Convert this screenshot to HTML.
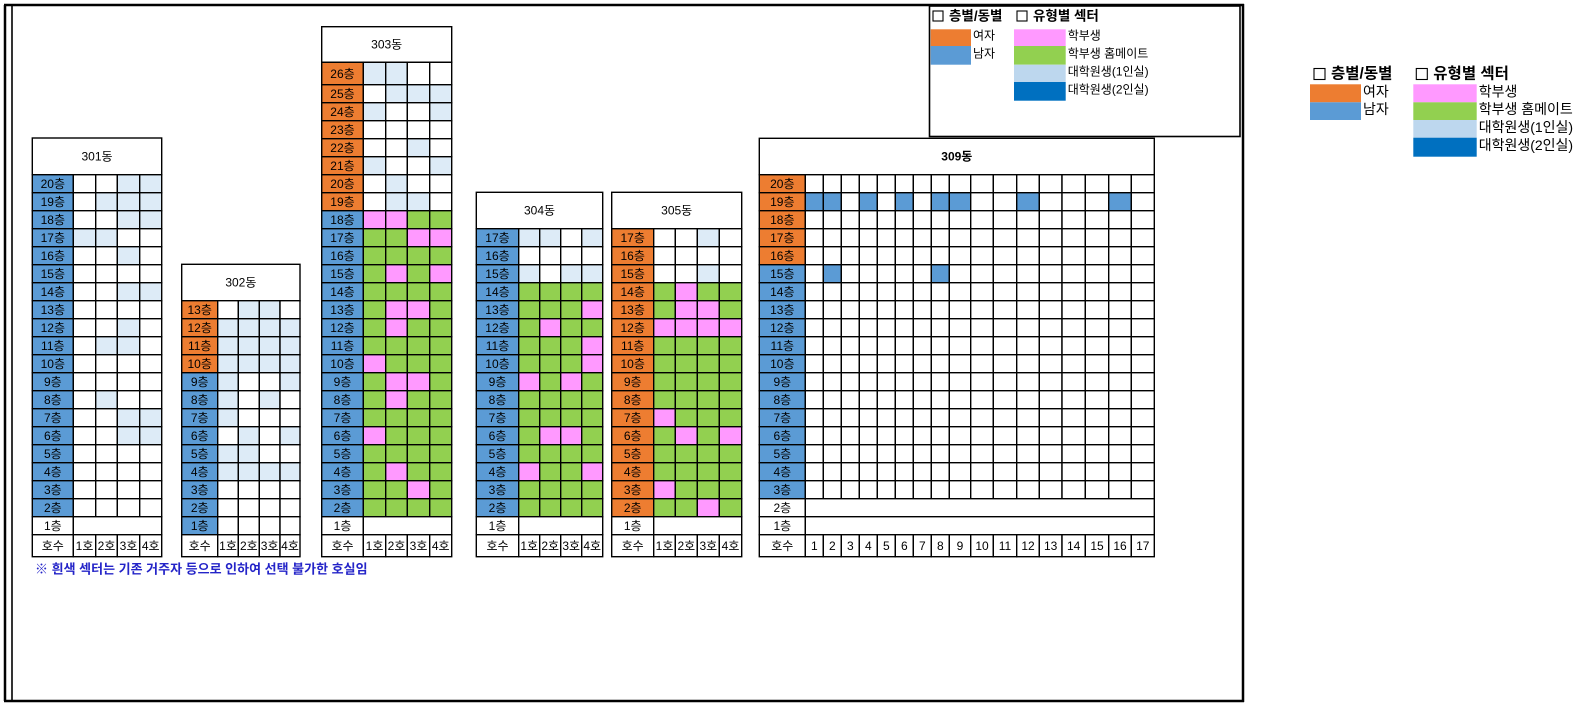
<!DOCTYPE html>
<html><head><meta charset="utf-8">
<style>
html,body{margin:0;padding:0;background:#fff;width:1583px;height:706px;overflow:hidden}
svg{display:block}
text{font-family:"Liberation Sans","Noto Sans CJK KR",sans-serif;fill:#000}
</style></head>
<body>
<svg id="s" width="1583" height="706" xmlns="http://www.w3.org/2000/svg"></svg>
<script>
const C={O:'#ED7D31',B:'#5B9BD5',L:'#DDEBF7',P:'#FF99FF',G:'#92D050',W:'#FFFFFF'};
let out='';
function rect(x,y,w,h,f,sw){out+=`<rect x="${x}" y="${y}" width="${w}" height="${h}" fill="${f}" stroke="#000" stroke-width="${sw||1.4}"/>`;}
function txt(x,y,s,sz,extra){out+=`<text x="${x}" y="${y}" font-size="${sz||12}" text-anchor="middle" dominant-baseline="central" ${extra||''}>${s}</text>`;}
const BOT=534.7, RH=18;
function ftop(f){return BOT-RH*f;}
function building(name,x0,lab,cols,top,titleTop,data,labColor,mergeFirst,hosu,tallTop,boldTitle){
  const x1=cols[cols.length-1];
  let topY=tallTop?tallTop:ftop(top);
  rect(x0,titleTop,x1-x0,topY-titleTop,'#fff');
  txt((x0+x1)/2,(titleTop+topY)/2,name,12,boldTitle?'font-weight="bold"':'');
  for(let f=top;f>=1;f--){
    let y=ftop(f),h=RH;
    if(f===top&&tallTop){y=tallTop;h=ftop(f)+RH-tallTop;}
    const lc=labColor(f);
    rect(x0,y,lab-x0,h,C[lc]);
    txt((x0+lab)/2,y+h/2+0.5,f+'층',12);
    const row=data[f];
    if(!row){rect(lab,y,x1-lab,h,'#fff');continue;}
    for(let i=0;i<cols.length-1;i++) rect(cols[i],y,cols[i+1]-cols[i],h,C[row[i]]);
  }
  const y=BOT;
  rect(x0,y,lab-x0,22,'#fff');txt((x0+lab)/2,y+11.5,'호수',12);
  for(let i=0;i<cols.length-1;i++){rect(cols[i],y,cols[i+1]-cols[i],22,'#fff');txt((cols[i]+cols[i+1])/2,y+11.5,hosu(i),12);}
}
function parse(obj){const d={};for(const k in obj)d[k]=obj[k].split('');return d;}
// 301
building('301동',32.3,73.3,[73.3,95.7,117.3,139.7,161.7],20,138,parse({
20:'WWLL',19:'WLLL',18:'WWLL',17:'LLWW',16:'WWLW',15:'WWWW',14:'WWLL',13:'WWWW',12:'WWLW',11:'WLLW',10:'WWWW',9:'WWWW',8:'WLWW',7:'WWLL',6:'WWLL',5:'WWWW',4:'WWWW',3:'WWWW',2:'WWWW'}),
f=>f===1?'W':'B',true,i=>(i+1)+'호');
// 302
building('302동',181.7,217.7,[217.7,238.3,259.3,280,300],13,264.3,parse({
13:'WLLW',12:'LLLL',11:'LLLL',10:'LLLL',9:'LWWL',8:'LWLW',7:'LWWW',6:'WLWL',5:'LLWW',4:'LLLL',3:'WWWW',2:'WWWW',1:'WWWW'}),
f=>f>=10?'O':'B',false,i=>(i+1)+'호');
// 303
building('303동',321.7,363.3,[363.3,385.7,407.3,429.7,451.7],26,26.7,parse({
26:'LLWW',25:'WLLL',24:'LWWL',23:'WWWW',22:'WWLW',21:'LWWL',20:'WLWW',19:'WLLW',18:'PPGG',17:'GGPP',16:'GGGG',15:'GPGP',14:'GGGG',13:'GPPG',12:'GPGG',11:'GGGG',10:'PGGG',9:'GPPG',8:'GPGG',7:'GGGG',6:'PGGG',5:'GGGG',4:'GPGG',3:'GGPG',2:'GGGG'}),
f=>f===1?'W':(f>=19?'O':'B'),true,i=>(i+1)+'호',62.3);
// 304
building('304동',476.3,518.7,[518.7,539.7,560.7,581.7,602.7],17,192.3,parse({
17:'LLWL',16:'WWWW',15:'LWLL',14:'GGGG',13:'GGGP',12:'GPGG',11:'GGGP',10:'GGGP',9:'PGPG',8:'GGGG',7:'GGGG',6:'GPPG',5:'GGGG',4:'PGGP',3:'GGGG',2:'GGGG'}),
f=>f===1?'W':'B',true,i=>(i+1)+'호');
// 305
building('305동',611.7,653.7,[653.7,675.3,697.3,719.3,741.7],17,192.3,parse({
17:'WWLW',16:'WWWW',15:'WWLW',14:'GPGG',13:'GPPG',12:'PPPP',11:'GGGG',10:'GGGG',9:'GGGG',8:'GGGG',7:'PGGG',6:'GPGP',5:'GGGG',4:'GGGG',3:'PGGG',2:'GGPG'}),
f=>f===1?'W':'O',true,i=>(i+1)+'호');
// 309
const c309=[805.3,823.3,841.3,859.3,877.3,895.3,913.3,931.3,949.3,970.7,993.3,1016.7,1039.3,1062,1085.3,1108.7,1131.3,1154.3];
const d309={};
for(let f=3;f<=20;f++){d309[f]=Array(17).fill('W');}
[1,2,4,6,8,9,12,16].forEach(c=>d309[19][c-1]='B');
[2,8].forEach(c=>d309[15][c-1]='B');
building('309동',759.3,805.3,c309,20,138.3,d309,f=>f<=2?'W':(f>=16?'O':'B'),true,i=>''+(i+1),null,true);
// footnote
out+=`<text x="35" y="569" font-size="13" font-weight="bold" dominant-baseline="central" style="fill:#2424C8">※ 흰색 섹터는 기존 거주자 등으로 인하여 선택 불가한 호실임</text>`;
// outer frame
out+=`<line x1="5" y1="5" x2="5" y2="701" stroke="#000" stroke-width="2.5"/>`;
out+=`<line x1="12" y1="5" x2="12" y2="701" stroke="#000" stroke-width="1.6"/>`;
out+=`<line x1="4" y1="5" x2="1244" y2="5" stroke="#000" stroke-width="2.5"/>`;
out+=`<line x1="4" y1="701" x2="1244" y2="701" stroke="#000" stroke-width="2.5"/>`;
out+=`<line x1="1243" y1="4" x2="1243" y2="702" stroke="#000" stroke-width="2.5"/>`;
// legend 1
out+=`<rect x="929.5" y="6" width="310.5" height="130.5" fill="none" stroke="#000" stroke-width="1.6"/>`;
function legend(x,y,sw1x,sw1w,sw2x,sw2w,rowY,fs,hs,boxS){
  out+=`<rect x="${x}" y="${y-boxS/2}" width="${boxS}" height="${boxS}" fill="#fff" stroke="#000" stroke-width="1.1"/>`;
  out+=`<text x="${x+boxS+6}" y="${y}" font-size="${hs}" font-weight="bold" dominant-baseline="central">층별/동별</text>`;
  out+=`<rect x="${sw2x+3}" y="${y-boxS/2}" width="${boxS}" height="${boxS}" fill="#fff" stroke="#000" stroke-width="1.1"/>`;
  out+=`<text x="${sw2x+3+boxS+6}" y="${y}" font-size="${hs}" font-weight="bold" dominant-baseline="central">유형별 섹터</text>`;
  const g=[['#ED7D31','여자'],['#5B9BD5','남자']];
  g.forEach((a,i)=>{out+=`<rect x="${sw1x}" y="${rowY[i]}" width="${sw1w}" height="${rowY[i+1]-rowY[i]}" fill="${a[0]}"/>`;
    out+=`<text x="${sw1x+sw1w+2}" y="${(rowY[i]+rowY[i+1])/2-2}" font-size="${fs}" dominant-baseline="central">${a[1]}</text>`;});
  const t=[['#FF99FF','학부생'],['#92D050','학부생 홈메이트'],['#BDD7EE','대학원생(1인실)'],['#0070C0','대학원생(2인실)']];
  t.forEach((a,i)=>{out+=`<rect x="${sw2x}" y="${rowY[i]}" width="${sw2w}" height="${rowY[i+1]-rowY[i]}" fill="${a[0]}"/>`;
    out+=`<text x="${sw2x+sw2w+2}" y="${(rowY[i]+rowY[i+1])/2-2}" font-size="${fs}" dominant-baseline="central">${a[1]}</text>`;});
}
legend(933,16,930.7,40.3,1014,51.7,[29.3,46,64.7,82,100.7],12,13.5,10);
legend(1314,74,1310,51,1413.3,63.4,[84.3,102.3,120,137.7,156.7],14,15.5,11);
document.getElementById('s').innerHTML=out;
</script>
</body></html>
